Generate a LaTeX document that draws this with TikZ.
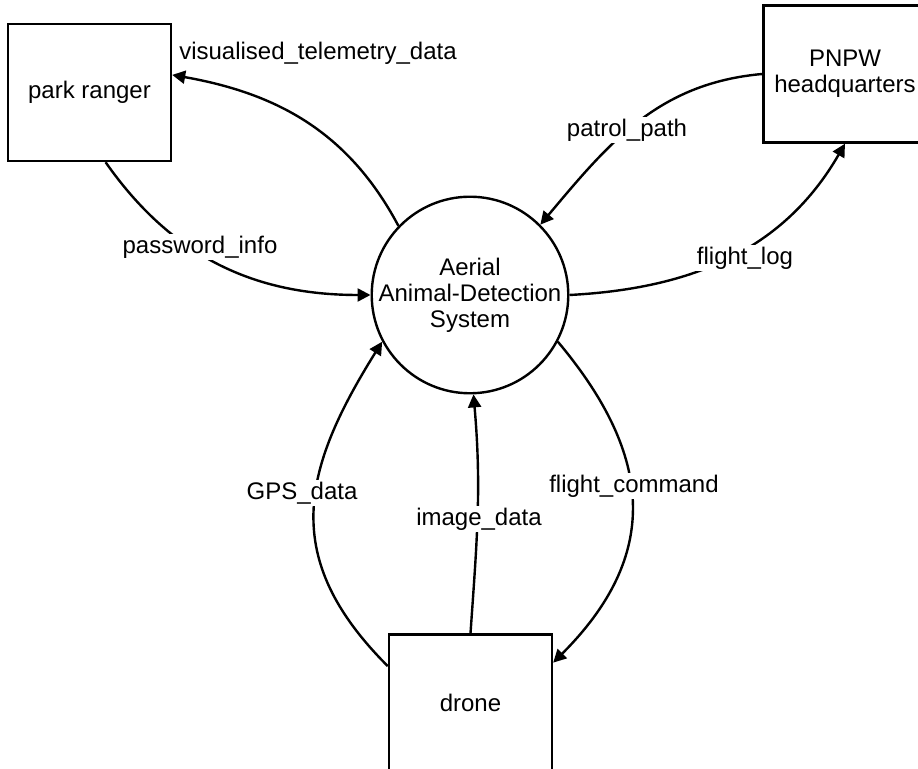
\documentclass[tikz,border=0pt]{standalone}
\usepackage{fontspec}
\setmainfont{Liberation Sans}
\usetikzlibrary{arrows.meta}

\tikzset{
  entity/.style={draw, line width=1.2pt, minimum width=81.5pt, minimum height=68.5pt, align=center},
  proc/.style={draw, circle, line width=1.2pt, minimum size=97pt, inner sep=0pt, align=center},
  flow/.style={line width=1.2pt, -{Triangle[length=6.5pt,width=6.5pt]}},
  lbl/.style={fill=white, inner sep=1pt}
}

\begin{document}
\begin{tikzpicture}[x=0.5pt, y=0.5pt, font=\fontsize{12}{13}\selectfont]
\clip (0,0) rectangle (918,-769);
%\draw[help lines,step=50] (0,0) grid (918,-769);

% external entities
\node[entity] (ranger) at (89.5,-92.5) {park ranger};
\node[entity] (hq) at (845,-74) {PNPW\\headquarters};
\node[entity] (drone) at (470.5,-703) {drone};

% the process
\node[proc] (ads) at (470,-295) {Aerial\\Animal-Detection\\System};

% data flows
\draw[flow] (ads.136) to[out=118,in=-10] (ranger.12);
\draw[flow] (ranger.-77) to[out=-55,in=180] (ads.west);
\draw[flow] (hq.west) to[out=185,in=50] (ads.45);
\draw[flow] (ads.east) to[out=3,in=240] (hq.south);
\draw[flow] (drone.156) to[out=135,in=238,looseness=1.2] (ads.208);
\draw[flow] (drone.north) to[out=86,in=-85] (ads.-88);
\draw[flow] (ads.-28) to[out=-50,in=45,looseness=1.2] (drone.26);

% flow labels
\node (ltel) at (318,-53) {visualised\_telemetry\_data};
\node[lbl] (lpass) at (200,-247) {password\_info};
\node[lbl] (lpatrol) at (627,-130) {patrol\_path};
\node[lbl] (llog) at (745,-258) {flight\_log};
\node[lbl] (lgps) at (302,-493) {GPS\_data};
\node[lbl] (limg) at (479,-519) {image\_data};
\node[lbl] (lcmd) at (634,-486) {flight\_command};

\end{tikzpicture}
\end{document}
